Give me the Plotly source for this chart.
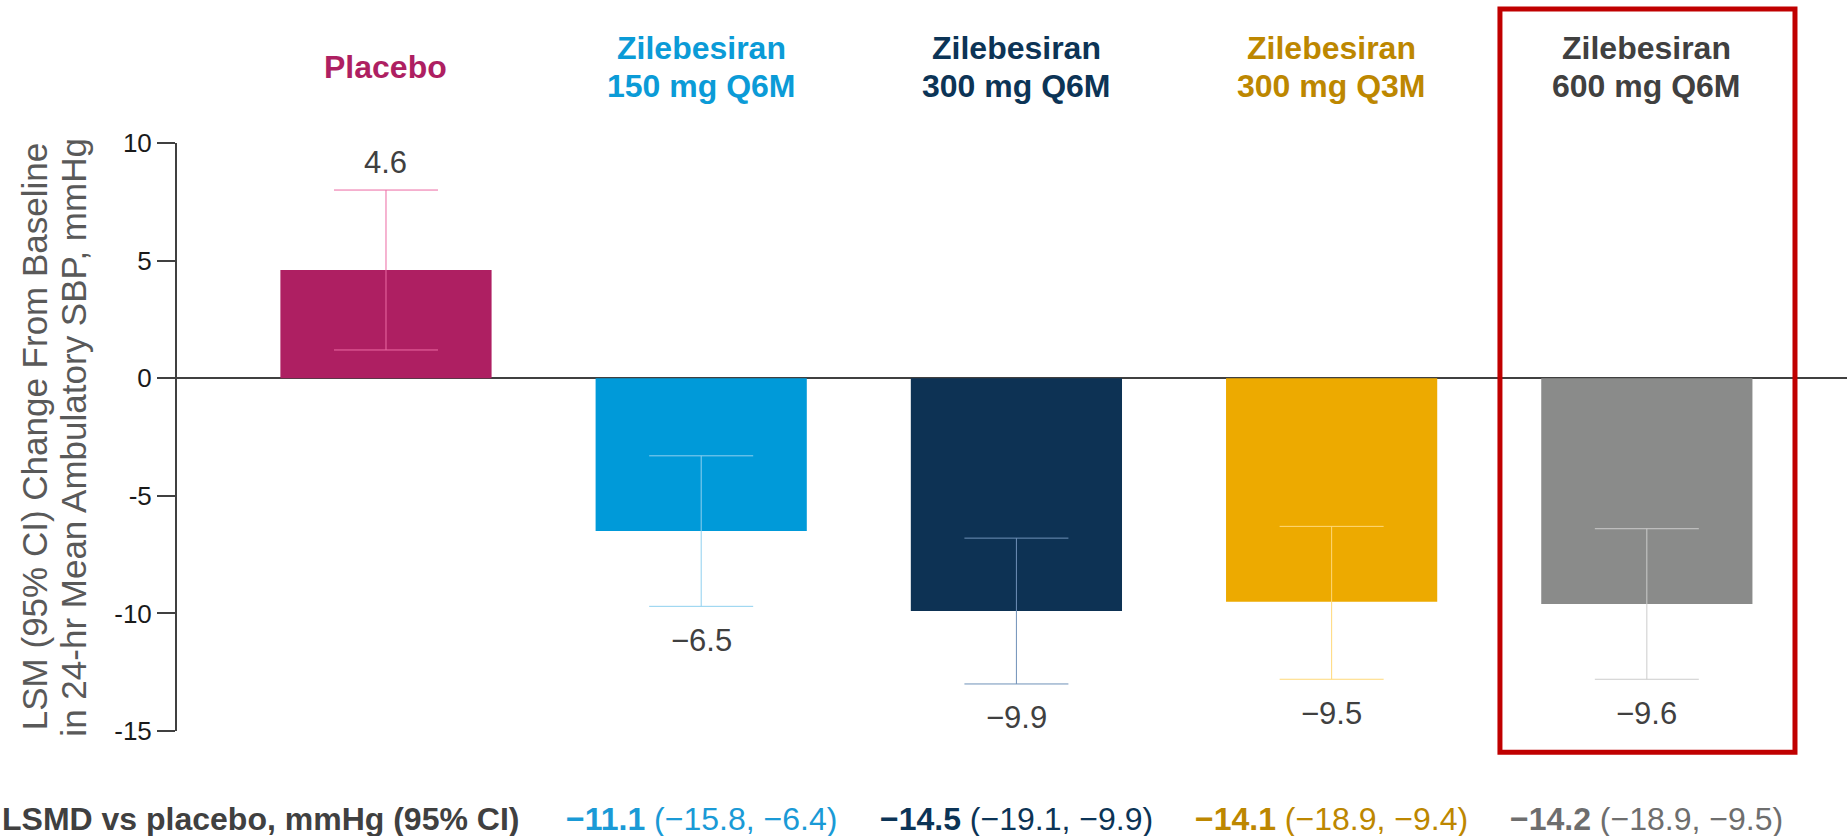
import plotly.graph_objects as go

# ── data ────────────────────────────────────────────────────────────────────
groups = ["Placebo", "Zilebesiran 150 mg Q6M", "Zilebesiran 300 mg Q6M",
          "Zilebesiran 300 mg Q3M", "Zilebesiran 600 mg Q6M"]
lsm = [4.6, -6.5, -9.9, -9.5, -9.6]
ci_low = [1.2, -9.7, -13.0, -12.8, -12.8]
ci_high = [8.0, -3.3, -6.8, -6.3, -6.4]
lsmd = [None, -11.1, -14.5, -14.1, -14.2]
lsmd_low = [None, -15.8, -19.1, -18.9, -18.9]
lsmd_high = [None, -6.4, -9.9, -9.4, -9.5]
y_ticks = [10, 5, 0, -5, -10, -15]
y_title = ["LSM (95% CI) Change From Baseline", "in 24-hr Mean Ambulatory SBP, mmHg"]
lsmd_label = "LSMD vs placebo, mmHg (95% CI)"

# ── styling ─────────────────────────────────────────────────────────────────
FONT = "Liberation Sans, Arial, sans-serif"
bar_colors = ["#ae1f62", "#009ad9", "#0d3254", "#edaa00", "#8a8b8a"]
err_colors = ["#ec6aa3", "#8fd0ef", "#6f91b8", "#ffd979", "#cccccc"]
head_colors = ["#ae1f62", "#0b9bd7", "#0c3456", "#bd8700", "#404040"]
lsmd_colors = ["#404040", "#1a9ad6", "#0c3456", "#bd8700", "#6e6e6e"]
INK = "#404040"


def fmt(v):
    return f"{v:.1f}".replace("-", "\u2212")


fig = go.Figure()
for i, g in enumerate(groups):
    fig.add_bar(
        x=[g], y=[lsm[i]], width=0.67,
        marker_color=bar_colors[i], marker_line_width=0,
        error_y=dict(type="data", symmetric=False,
                     array=[ci_high[i] - lsm[i]], arrayminus=[lsm[i] - ci_low[i]],
                     color=err_colors[i], thickness=1, width=52),
        showlegend=False,
    )

ann = []
for i, g in enumerate(groups):
    # header above the plot, one annotation per line
    lines = ["Zilebesiran", g[len("Zilebesiran "):]] if g.startswith("Zilebesiran ") else [g]
    for k, ln in enumerate(lines):
        shift = 0 if len(lines) == 1 else (19 if k == 0 else -19)
        ann.append(dict(x=g, xref="x", y=1.129, yref="paper", text=f"<b>{ln}</b>",
                        showarrow=False, xanchor="center", yanchor="middle", yshift=shift,
                        font=dict(family=FONT, size=32, color=head_colors[i])))
    # value label beyond the CI end
    up = lsm[i] > 0
    ann.append(dict(x=g, xref="x", y=ci_high[i] if up else ci_low[i], yref="y",
                    text=fmt(lsm[i]), showarrow=False, xanchor="center", yanchor="middle",
                    yshift=28 if up else -34,
                    font=dict(family=FONT, size=31, color=INK)))
    # LSMD row
    if lsmd[i] is not None:
        ann.append(dict(x=g, xref="x", y=-0.15, yref="paper", showarrow=False,
                        xanchor="center", yanchor="middle",
                        text=f"<b>{fmt(lsmd[i])}</b> ({fmt(lsmd_low[i])}, {fmt(lsmd_high[i])})",
                        font=dict(family=FONT, size=32, color=lsmd_colors[i])))

ann.append(dict(x=-0.106, xref="paper", y=-0.15, yref="paper",
                xanchor="left", yanchor="middle",
                text=f"<b>{lsmd_label}</b>", showarrow=False,
                font=dict(family=FONT, size=32, color=INK)))

for k, ln in enumerate(y_title):
    ann.append(dict(x=[-0.0855, -0.0625][k], xref="paper", y=0.5, yref="paper",
                    xanchor="center", yanchor="middle",
                    text=ln, textangle=-90, showarrow=False,
                    font=dict(family=FONT, size=35, color="#595959")))

fig.update_layout(
    width=1847, height=836,
    margin=dict(l=177, r=0, t=143, b=105),
    paper_bgcolor="white", plot_bgcolor="white",
    barmode="overlay",
    font=dict(family=FONT, color=INK),
    annotations=ann,
    xaxis=dict(showticklabels=False, showgrid=False, showline=False, zeroline=False,
               range=[-0.663, 4.635], fixedrange=True),
    yaxis=dict(range=[-15, 10], tickvals=y_ticks, ticktext=[str(t) for t in y_ticks],
               showgrid=False, showline=True, linecolor=INK, linewidth=2,
               ticks="outside", ticklen=18, tickwidth=1.5, tickcolor=INK,
               tickfont=dict(family=FONT, size=26, color="#1a1a1a"),
               zeroline=True, zerolinecolor=INK, zerolinewidth=2),
    shapes=[dict(type="rect", xref="x", yref="paper",
                 x0=len(groups) - 1 - 0.466, x1=len(groups) - 1 + 0.47,
                 y0=-0.036, y1=1.228, line=dict(color="#c00000", width=5))],
)

# drop the page's default body margin so the figure sits at the window corner
fig.write_html("out.html", config={"displayModeBar": False},
               post_script="document.body.style.margin='0px';")
